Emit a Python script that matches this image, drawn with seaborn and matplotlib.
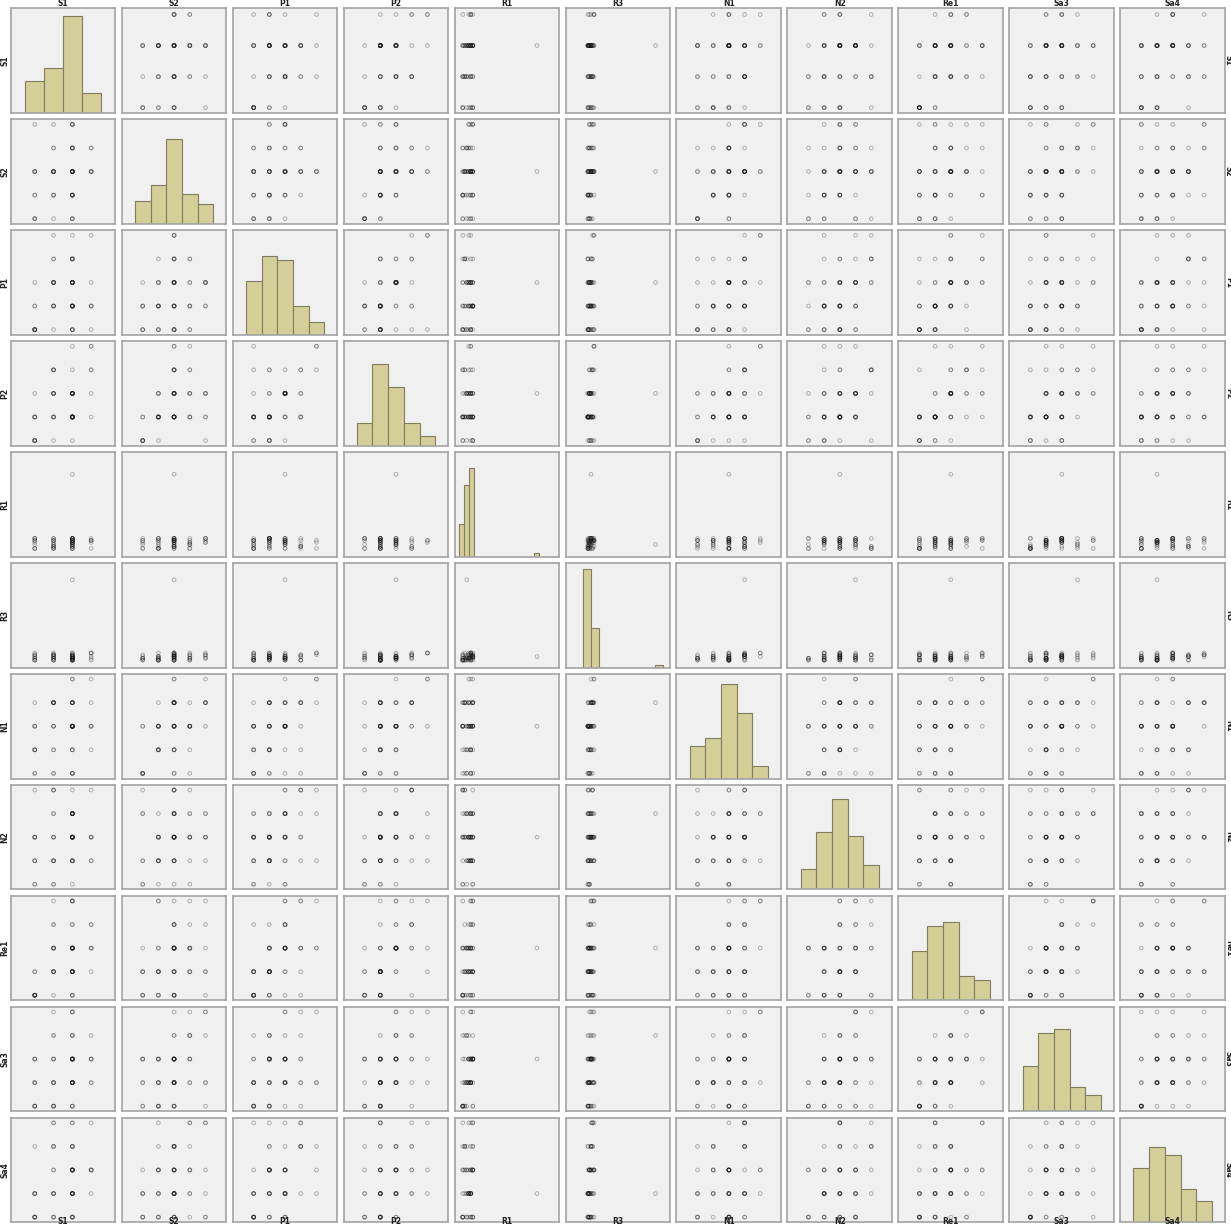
import numpy as np
import pandas as pd
import matplotlib
matplotlib.use("Agg")
import matplotlib.pyplot as plt
import seaborn as sns

# Configuração do gráfico
sns.set_theme(style="white")
plt.rcParams['font.family'] = ['DejaVu Sans']

# Dados (60 respondentes, escala 1-5; R1 e R3 têm um valor atípico cada)
variaveis = ['S1', 'S2', 'P1', 'P2', 'R1', 'R3', 'N1', 'N2', 'Re1', 'Sa3', 'Sa4']

S1 = [2, 2, 3, 2, 4, 2, 3, 2, 2, 4,
      3, 2, 4, 3, 2, 3, 4, 4, 2, 5,
      4, 3, 4, 4, 3, 2, 4, 3, 4, 4,
      4, 4, 3, 4, 5, 4, 3, 4, 4, 4,
      4, 4, 4, 3, 4, 4, 5, 4, 3, 4,
      4, 5, 4, 4, 5, 3, 4, 4, 5, 3]
S2 = [1, 2, 1, 3, 2, 1, 2, 3, 5, 1,
      2, 3, 1, 2, 3, 3, 2, 4, 1, 3,
      3, 3, 2, 3, 4, 2, 3, 3, 1, 3,
      5, 4, 3, 2, 3, 3, 5, 3, 2, 3,
      3, 3, 4, 3, 2, 3, 4, 5, 3, 4,
      4, 3, 5, 3, 4, 3, 5, 2, 3, 4]
P1 = [1, 1, 2, 1, 2, 1, 3, 1, 2, 1,
      2, 1, 2, 3, 1, 2, 2, 1, 3, 2,
      2, 3, 1, 2, 3, 2, 4, 1, 2, 3,
      3, 2, 3, 1, 2, 3, 2, 4, 3, 2,
      3, 4, 2, 3, 2, 3, 1, 3, 5, 3,
      4, 3, 3, 5, 2, 4, 3, 4, 5, 4]
P2 = [1, 2, 1, 2, 2, 1, 2, 3, 1, 2,
      2, 2, 1, 3, 2, 2, 3, 2, 1, 2,
      2, 3, 2, 2, 3, 1, 2, 4, 2, 3,
      3, 2, 3, 2, 4, 3, 2, 3, 3, 2,
      3, 2, 4, 3, 2, 3, 5, 3, 4, 2,
      3, 4, 2, 5, 3, 4, 3, 2, 5, 4]
R1 = [1, 3, 3, 6, 2, 5, 1, 4, 6, 5,
      5, 1, 6, 4, 5, 2, 6, 3, 1, 5,
      6, 5, 1, 4, 3, 6, 5, 2, 4, 38,
      4, 6, 5, 1, 5, 3, 6, 2, 5, 6,
      5, 2, 4, 6, 1, 3, 5, 6, 1, 4,
      3, 6, 4, 5, 1, 2, 5, 6, 4, 1]
R3 = [2, 1, 3, 1, 2, 4, 1, 2, 5, 1,
      1, 3, 2, 2, 4, 1, 3, 2, 1, 5,
      3, 2, 1, 4, 2, 3, 1, 5, 2, 3,
      2, 4, 3, 1, 3, 2, 4, 1, 5, 3,
      4, 1, 2, 3, 2, 46, 5, 3, 4, 1,
      3, 2, 4, 5, 1, 4, 2, 3, 5, 4]
N1 = [1, 2, 1, 3, 2, 1, 3, 2, 4, 1,
      2, 3, 1, 3, 2, 4, 3, 1, 3, 2,
      3, 1, 3, 4, 3, 2, 3, 4, 3, 3,
      4, 3, 2, 3, 4, 3, 4, 1, 3, 4,
      3, 4, 3, 4, 2, 4, 3, 5, 4, 3,
      2, 3, 4, 5, 3, 4, 3, 4, 5, 4]
N2 = [1, 2, 2, 1, 3, 2, 1, 3, 2, 4,
      2, 3, 1, 2, 3, 4, 2, 3, 5, 2,
      3, 2, 4, 3, 1, 3, 2, 3, 4, 3,
      3, 4, 3, 2, 3, 4, 3, 5, 3, 2,
      4, 3, 2, 4, 3, 4, 3, 4, 5, 3,
      4, 5, 3, 4, 3, 5, 4, 3, 2, 5]
Re1 = [1, 1, 2, 1, 2, 1, 3, 2, 1, 2,
       2, 1, 3, 2, 1, 2, 3, 2, 1, 3,
       2, 3, 2, 1, 3, 2, 3, 4, 2, 3,
       3, 2, 3, 1, 4, 3, 2, 3, 5, 2,
       3, 2, 3, 4, 1, 3, 2, 5, 3, 4,
       3, 4, 2, 5, 3, 1, 4, 5, 3, 5]
Sa3 = [1, 2, 1, 1, 2, 3, 1, 2, 1, 2,
       2, 1, 2, 3, 2, 1, 3, 2, 3, 2,
       3, 2, 1, 3, 2, 3, 2, 4, 3, 3,
       2, 3, 3, 1, 3, 2, 4, 3, 2, 3,
       3, 2, 4, 3, 1, 4, 3, 5, 2, 3,
       4, 3, 2, 5, 4, 1, 5, 3, 2, 5]
Sa4 = [1, 2, 1, 1, 3, 2, 1, 2, 1, 2,
       2, 1, 3, 2, 1, 2, 3, 1, 2, 3,
       3, 2, 1, 2, 3, 4, 2, 3, 1, 2,
       2, 3, 4, 1, 2, 3, 5, 4, 3, 4,
       3, 4, 2, 1, 3, 2, 5, 3, 4, 2,
       4, 3, 5, 2, 3, 4, 1, 5, 3, 5]

df = pd.DataFrame({'S1': S1, 'S2': S2, 'P1': P1, 'P2': P2, 'R1': R1, 'R3': R3,
                   'N1': N1, 'N2': N2, 'Re1': Re1, 'Sa3': Sa3, 'Sa4': Sa4})

# Escalas dos eixos (como no SPSS: x segue o histograma, y justo aos dados)
xlim_padrao = (-0.34, 6.33)
ylim_padrao = (0.78, 5.22)
xlims = {'S1': (0.72, 6.29), 'R1': (-3.1, 49.1), 'R3': (-14.0, 55.8)}
ylims = {'S1': (1.83, 5.2), 'R1': (-3.1, 49.1), 'R3': (-3.2, 55.4)}
bins_padrao = np.arange(0.5, 6.0, 1.0)
bins_var = {'S1': np.arange(1.5, 6.0, 1.0),
            'R1': -0.75 + 2.5 * np.arange(17),
            'R3': -2.3 + 5.333 * np.arange(11)}
topo_hist = {'S1': 32.3, 'S2': 32, 'P1': 25.3, 'P2': 32, 'R1': 32, 'R3': 44.4,
             'N1': 25.5, 'N2': 25.3, 'Re1': 25.3, 'Sa3': 25.3, 'Sa4': 25}

COR_FUNDO = '#f0f0f0'
COR_BORDA = '#a3a3a3'
COR_BARRA = '#d4cf99'
COR_BORDA_BARRA = '#807c5c'

W, H = 1231, 1226
fig, axes = plt.subplots(11, 11, figsize=(W / 100, H / 100), dpi=100)
fig.subplots_adjust(left=10.7 / W, right=1225 / W, bottom=1 - 1222.3 / H, top=1 - 8.3 / H,
                    wspace=0.0598, hspace=0.0603)

for i, vy in enumerate(variaveis):
    for j, vx in enumerate(variaveis):
        ax = axes[i][j]
        ax.set_facecolor(COR_FUNDO)
        if i == j:
            sns.histplot(data=df, x=vx, bins=bins_var.get(vx, bins_padrao), ax=ax,
                         color=COR_BARRA, edgecolor=COR_BORDA_BARRA, linewidth=0.8, alpha=1)
            ax.set_ylim(0, topo_hist[vx])
        else:
            sns.scatterplot(data=df, x=vx, y=vy, ax=ax, s=7, fc='none',
                            ec=(0.1, 0.1, 0.1, 0.3), linewidth=0.7)
            ax.set_ylim(*ylims.get(vy, ylim_padrao))
        ax.set_xlim(*xlims.get(vx, xlim_padrao))
        ax.set_xlabel('')
        ax.set_ylabel('')
        ax.set_xticks([])
        ax.set_yticks([])
        for sp in ax.spines.values():
            sp.set_visible(True)
            sp.set_color(COR_BORDA)
            sp.set_linewidth(1.2)

# Rótulos das variáveis nos quatro lados
for k, v in enumerate(variaveis):
    pc = axes[0][k].get_position()
    pr = axes[k][0].get_position()
    xc = pc.x0 + pc.width / 2
    yc = pr.y0 + pr.height / 2
    kw = dict(fontsize=5.5, fontweight='bold', color='#222222', ha='center')
    fig.text(xc, 1 - 4 / H, v, va='center', **kw)
    fig.text(xc, 0.3 / H, v, va='bottom', **kw)
    fig.text(5 / W, yc, v, rotation=90, va='center', **kw)
    fig.text(1228.3 / W, yc, v, rotation=-90, va='center', **kw)

fig.savefig('out.png', dpi=100, facecolor='white')
plt.close(fig)
